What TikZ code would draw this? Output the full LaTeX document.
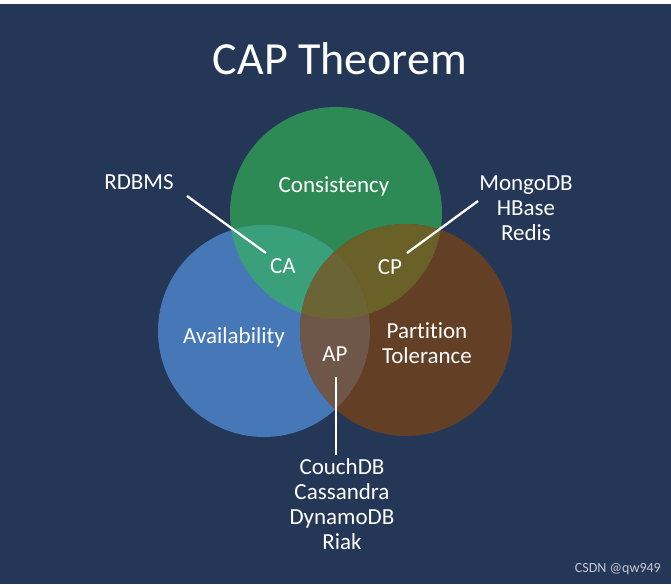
\documentclass[tikz,border=0pt]{standalone}
\usepackage{fontspec}
\setmainfont{Carlito}[Ligatures=NoCommon]
\definecolor{bgcol}{HTML}{243757}
\definecolor{Ccol}{HTML}{2E8A55}
\definecolor{Acol}{HTML}{4678B8}
\definecolor{Pcol}{HTML}{623F25}
\definecolor{CAcol}{HTML}{3A9F7B}
\definecolor{CPcol}{HTML}{6A6128}
\definecolor{APcol}{HTML}{6E5649}
\definecolor{CAPcol}{HTML}{6B6434}
\definecolor{markcol}{HTML}{C5CAD3}

\begin{document}
\begin{tikzpicture}[x=1pt,y=-1pt,
  lbl/.style={text=white,font=\fontsize{23}{25}\selectfont,align=center,inner sep=0pt},
  lead/.style={white,line width=2.3pt}]
  \coordinate (C) at (336,213);
  \coordinate (A) at (264,331);
  \coordinate (P) at (406,330);

  % background
  \fill[bgcol] (0,0) rectangle (671,584);
  \fill[white] (0,0) rectangle (671,4);

  % circles
  \fill[Ccol] (C) circle (106pt);
  \fill[Acol] (A) circle (106pt);
  \fill[Pcol] (P) circle (106pt);

  % overlaps
  \begin{scope}
    \clip (C) circle (106pt);
    \fill[CAcol] (A) circle (106pt);
    \fill[CPcol] (P) circle (106pt);
  \end{scope}
  \begin{scope}
    \clip (A) circle (106pt);
    \fill[APcol] (P) circle (106pt);
    \clip (P) circle (106pt);
    \fill[CAPcol] (C) circle (106pt);
  \end{scope}

  \node[lbl,font=\fontsize{46}{50}\selectfont] (title) at (340,59) {CAP Theorem};

  \node[lbl] (cons) at (334,186) {Consistency};
  \node[lbl] (avail) at (234,337) {Availability};
  \node[lbl] (part) at (427,343) {Partition\\Tolerance};
  \node[lbl] (ca) at (283,266) {CA};
  \node[lbl] (cp) at (390,267) {CP};
  \node[lbl] (ap) at (335,354) {AP};

  \node[lbl] (rdbms) at (139,182) {RDBMS};
  \node[lbl] (cpdb) at (526,208) {MongoDB\\HBase\\Redis};
  \node[lbl] (apdb) at (342,504) {CouchDB\\Cassandra\\DynamoDB\\Riak};

  \coordinate (rd-a) at (187,196);
  \coordinate (rd-b) at (266,253);
  \coordinate (cp-a) at (478,201);
  \coordinate (cp-b) at (407,253);
  \coordinate (ap-a) at (336,377);
  \coordinate (ap-b) at (336,455);

  \draw[lead] (rd-a) -- (rd-b);
  \draw[lead] (cp-a) -- (cp-b);
  \draw[lead] (ap-a) -- (ap-b);

  \node[anchor=east,text=markcol,font=\fontsize{14}{14}\selectfont,inner sep=0pt] (mark) at (661,569) {CSDN @qw949};
\end{tikzpicture}
\end{document}
